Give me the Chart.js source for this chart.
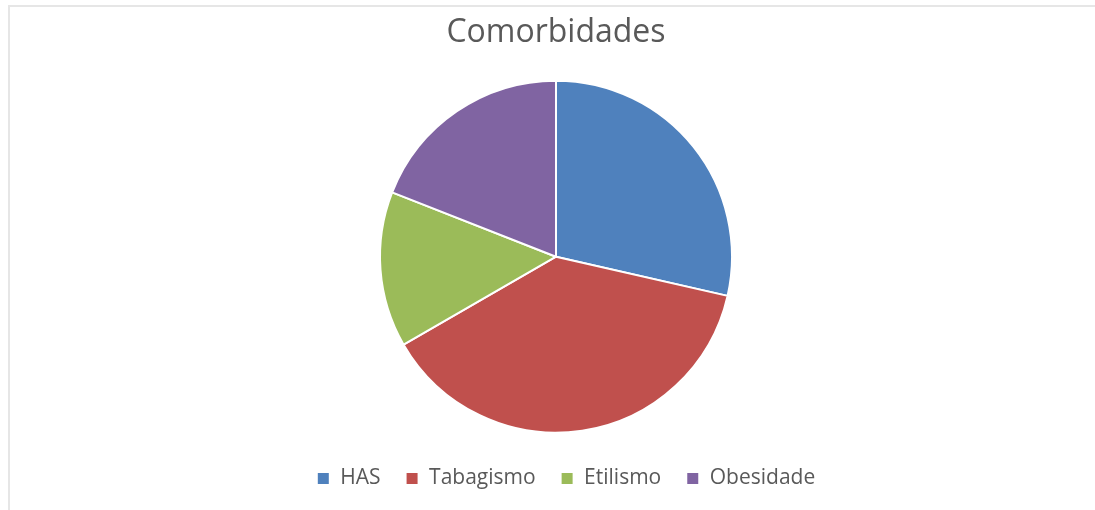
<!DOCTYPE html>
<html>
<head>
<meta charset="utf-8">
<script src="https://cdn.jsdelivr.net/npm/chart.js@4.4.1/dist/chart.umd.min.js"></script>
<style>
  html, body { margin: 0; padding: 0; background: #fff; overflow: hidden; }
  #frame {
    position: absolute; left: 8px; top: 5px;
    width: 1100px; height: 520px;
    border-left: 2px solid #e6e6e6; border-top: 2px solid #e6e6e6;
  }
  #wrap { position: absolute; left: 0; top: 0; width: 1092px; height: 510px; }
</style>
</head>
<body>
<div id="frame">
  <div id="wrap"><canvas id="pieChart"></canvas></div>
</div>
<script>
  const categories = ["HAS", "Tabagismo", "Etilismo", "Obesidade"];
  const values = [6, 8, 3, 4];
  const colors = ["#4f81bd", "#c0504d", "#9bbb59", "#8064a2"];

  // legend in the original sits a bit right of centre
  const shiftLegend = {
    id: "shiftLegend",
    afterLayout(chart) {
      chart.legend.left += 10;
      chart.legend.right += 10;
    },
  };

  const ctx = document.getElementById("pieChart").getContext("2d");
  new Chart(ctx, {
    type: "pie",
    data: {
      labels: categories,
      datasets: [
        {
          data: values,
          backgroundColor: colors,
          borderColor: "#ffffff",
          borderWidth: 2,
          radius: 176,
        },
      ],
    },
    options: {
      responsive: true,
      maintainAspectRatio: false,
      animation: false,
      layout: { padding: { top: 0, bottom: 18 } },
      plugins: {
        title: {
          display: true,
          text: "Comorbidades",
          color: "#595959",
          font: { family: "'Open Sans', sans-serif", size: 32, weight: "normal" },
          padding: { top: 7, bottom: 18 },
        },
        legend: {
          position: "bottom",
          labels: {
            color: "#595959",
            font: { family: "'Open Sans', sans-serif", size: 21 },
            boxWidth: 13,
            boxHeight: 13,
            padding: 25,
          },
        },
        tooltip: { enabled: false },
      },
    },
    plugins: [shiftLegend],
  });
</script>
</body>
</html>
